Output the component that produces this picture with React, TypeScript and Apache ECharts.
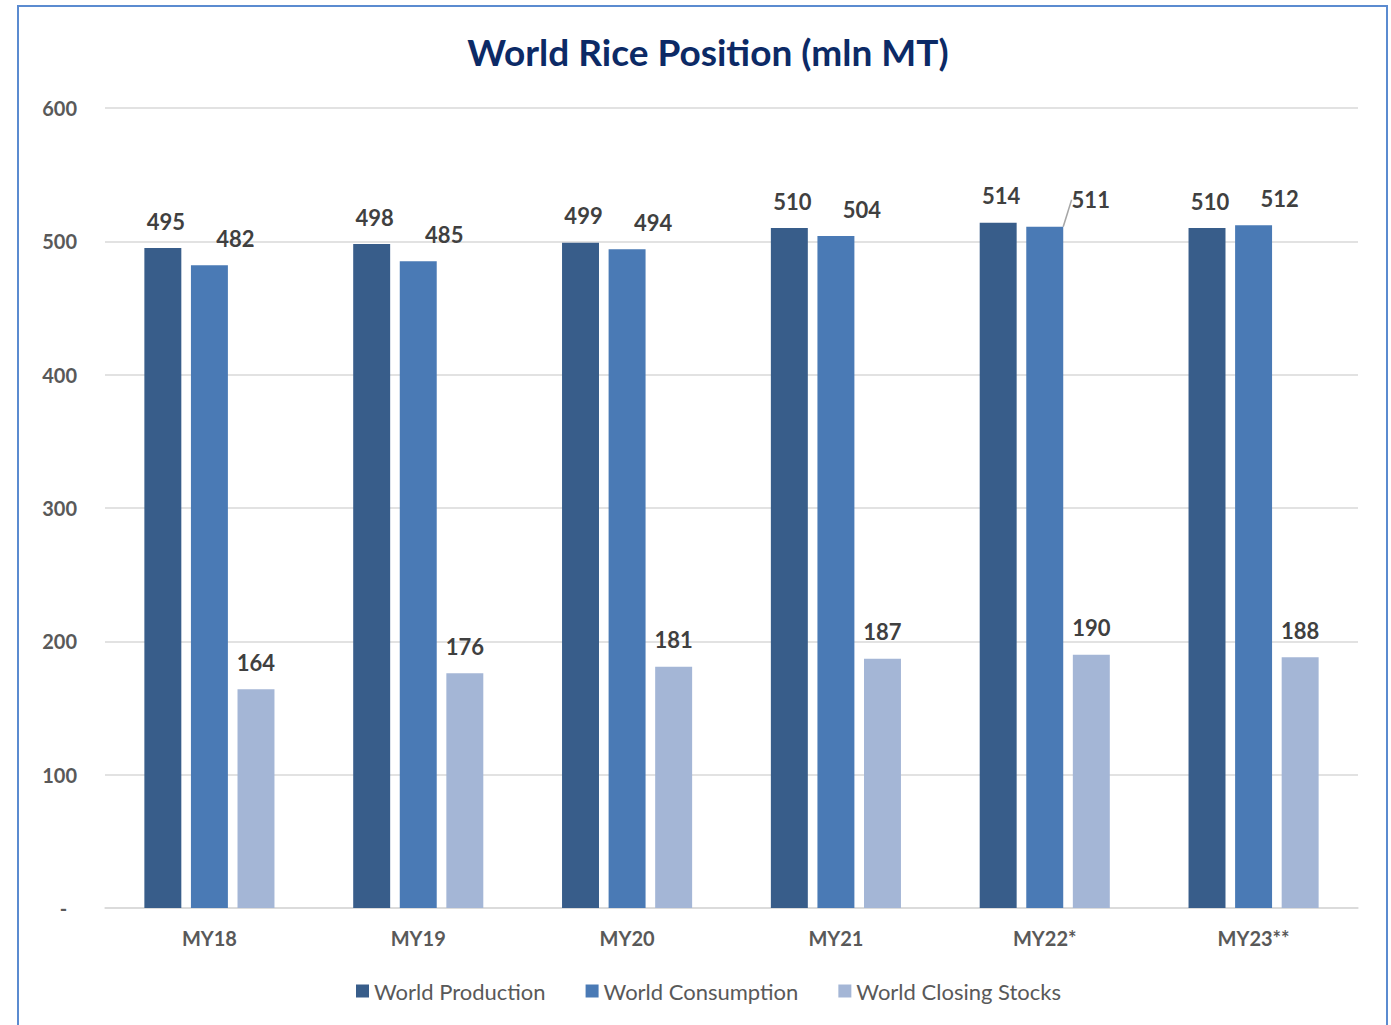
import React, { useEffect, useRef } from "react";
import * as echarts from "echarts";

const categories = ["MY18", "MY19", "MY20", "MY21", "MY22*", "MY23**"];
const production = [495, 498, 499, 510, 514, 510];
const consumption = [482, 485, 494, 504, 511, 512];
const closingStocks = [164, 176, 181, 187, 190, 188];
const yTicks = { min: 0, max: 600, step: 100 };

const FONT = "Lato";

export default function App() {
  const ref = useRef<HTMLDivElement>(null);

  useEffect(() => {
    if (!ref.current) return;
    const chart = echarts.init(ref.current, null, { renderer: "svg" });

    const labelBase = {
      show: true,
      position: "top" as const,
      distance: 16,
      fontFamily: FONT,
      fontSize: 22,
      fontWeight: "bold" as const,
      color: "#404040",
    };

    chart.setOption({
      animation: false,
      backgroundColor: "#ffffff",
      title: {
        text: "World Rice Position (mln MT)",
        left: 703,
        textAlign: "center",
        top: 28,
        textStyle: {
          fontFamily: FONT,
          fontSize: 37,
          fontWeight: "bold",
          color: "#0c2a66",
        },
      },
      graphic: [
        {
          type: "rect",
          shape: { x: 18, y: 6, width: 1369, height: 1040 },
          style: { fill: "none", stroke: "#5b8bd0", lineWidth: 2 },
          silent: true,
        },
      ],
      legend: {
        top: 975,
        left: 351,
        itemWidth: 13,
        itemHeight: 13,
        itemGap: 40,
        icon: "rect",
        textStyle: {
          fontFamily: FONT,
          fontSize: 22,
          color: "#595959",
        },
        data: ["World Production", "World Consumption", "World Closing Stocks"],
      },
      grid: { left: 105, right: 33, top: 108, bottom: 117 },
      xAxis: {
        type: "category",
        data: categories,
        axisLine: { lineStyle: { color: "#d9d9d9", width: 1.5 } },
        axisTick: { show: false },
        axisLabel: {
          margin: 20,
          fontFamily: FONT,
          fontSize: 20,
          fontWeight: "bold",
          color: "#595959",
        },
      },
      yAxis: {
        type: "value",
        min: yTicks.min,
        max: yTicks.max,
        interval: yTicks.step,
        axisLine: { show: false },
        axisTick: { show: false },
        splitLine: { lineStyle: { color: "#d9d9d9", width: 1.5 } },
        axisLabel: {
          margin: 28,
          fontFamily: FONT,
          fontSize: 20,
          fontWeight: "bold",
          color: "#595959",
          formatter: (v: number) => (v === 0 ? "-  " : String(v)),
        },
      },
      series: [
        {
          name: "World Production",
          type: "bar",
          data: production,
          barGap: "26%",
          barCategoryGap: "37.7%",
          itemStyle: { color: "#385d8a" },
          label: { ...labelBase, offset: [3, 0] },
        },
        {
          name: "World Consumption",
          type: "bar",
          data: consumption.map((v, i) =>
            i === 4
              ? { value: v, labelLine: { show: true } }
              : { value: v }
          ),
          itemStyle: { color: "#4a7ab5" },
          label: { ...labelBase },
          labelLine: {
            show: false,
            lineStyle: { color: "#a6a6a6", width: 1.5 },
          },
          labelLayout: (p: any) => ({ dx: p.dataIndex === 4 ? 46 : 26 }),
        },
        {
          name: "World Closing Stocks",
          type: "bar",
          data: closingStocks,
          itemStyle: { color: "#a4b6d6" },
          label: { ...labelBase },
        },
      ],
    });

    return () => chart.dispose();
  }, []);

  return (
    <div
      ref={ref}
      style={{ position: "fixed", left: 0, top: 0, width: 1391, height: 1025 }}
    />
  );
}
